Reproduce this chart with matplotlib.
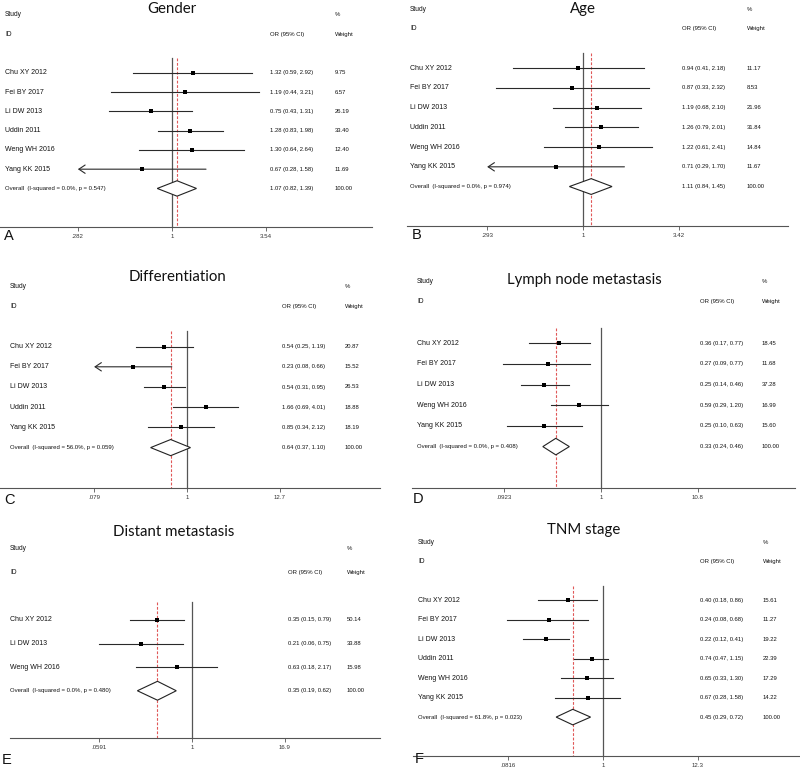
import numpy as np
import matplotlib
matplotlib.use('Agg')
import matplotlib.pyplot as plt
import matplotlib.transforms as mtransforms
from matplotlib.ticker import NullLocator

# ---- data ----
six_studies = ['Chu XY 2012', 'Fei BY 2017', 'Li DW 2013', 'Uddin 2011', 'Weng WH 2016', 'Yang KK 2015']

gender_or = [1.32, 1.19, 0.75, 1.28, 1.30, 0.67]
gender_lo = [0.59, 0.44, 0.43, 0.83, 0.64, 0.28]
gender_hi = [2.92, 3.21, 1.31, 1.98, 2.64, 1.58]
gender_wt = [9.75, 6.57, 26.19, 33.40, 12.40, 11.69]
gender_cut = [False, False, False, False, False, True]
gender_pool = [1.07, 0.82, 1.39]
gender_het = ['0.0%', '0.547']
gender_ticks = [0.282, 1, 3.54]
gender_ticklabels = ['.282', '1', '3.54']

age_or = [0.94, 0.87, 1.19, 1.26, 1.22, 0.71]
age_lo = [0.41, 0.33, 0.68, 0.79, 0.61, 0.29]
age_hi = [2.18, 2.32, 2.10, 2.01, 2.41, 1.70]
age_wt = [11.17, 8.53, 21.96, 31.84, 14.84, 11.67]
age_cut = [False, False, False, False, False, True]
age_pool = [1.11, 0.84, 1.45]
age_het = ['0.0%', '0.974']
age_ticks = [0.293, 1, 3.42]
age_ticklabels = ['.293', '1', '3.42']

diff_studies = ['Chu XY 2012', 'Fei BY 2017', 'Li DW 2013', 'Uddin 2011', 'Yang KK 2015']
diff_or = [0.54, 0.23, 0.54, 1.66, 0.85]
diff_lo = [0.25, 0.08, 0.31, 0.69, 0.34]
diff_hi = [1.19, 0.66, 0.95, 4.01, 2.12]
diff_wt = [20.87, 15.52, 26.53, 18.88, 18.19]
diff_cut = [False, True, False, False, False]
diff_pool = [0.64, 0.37, 1.10]
diff_het = ['56.0%', '0.059']
diff_ticks = [0.079, 1, 12.7]
diff_ticklabels = ['.079', '1', '12.7']

lymph_studies = ['Chu XY 2012', 'Fei BY 2017', 'Li DW 2013', 'Weng WH 2016', 'Yang KK 2015']
lymph_or = [0.36, 0.27, 0.25, 0.59, 0.25]
lymph_lo = [0.17, 0.09, 0.14, 0.29, 0.10]
lymph_hi = [0.77, 0.77, 0.46, 1.20, 0.63]
lymph_wt = [18.45, 11.68, 37.28, 16.99, 15.60]
lymph_cut = [False, False, False, False, False]
lymph_pool = [0.33, 0.24, 0.46]
lymph_het = ['0.0%', '0.408']
lymph_ticks = [0.0923, 1, 10.8]
lymph_ticklabels = ['.0923', '1', '10.8']

dist_studies = ['Chu XY 2012', 'Li DW 2013', 'Weng WH 2016']
dist_or = [0.35, 0.21, 0.63]
dist_lo = [0.15, 0.06, 0.18]
dist_hi = [0.79, 0.75, 2.17]
dist_wt = [50.14, 33.88, 15.98]
dist_cut = [False, False, False]
dist_pool = [0.35, 0.19, 0.62]
dist_het = ['0.0%', '0.480']
dist_ticks = [0.0591, 1, 16.9]
dist_ticklabels = ['.0591', '1', '16.9']

tnm_or = [0.40, 0.24, 0.22, 0.74, 0.65, 0.67]
tnm_lo = [0.18, 0.08, 0.12, 0.47, 0.33, 0.28]
tnm_hi = [0.86, 0.68, 0.41, 1.15, 1.30, 1.58]
tnm_wt = [15.61, 11.27, 19.22, 22.39, 17.29, 14.22]
tnm_cut = [False, False, False, False, False, False]
tnm_pool = [0.45, 0.29, 0.72]
tnm_het = ['61.8%', '0.023']
tnm_ticks = [0.0816, 1, 12.3]
tnm_ticklabels = ['.0816', '1', '12.3']

# ---- layout (figure pixels) ----
W, H = 800, 767
# axis left/right, x of 1, x of upper tick, y of "Study" row, y of axis,
# x of study / OR / weight columns, title centre, panel letter position
panels = [
    dict(title='Gender', letter='A', studies=six_studies, est=gender_or, lo=gender_lo, hi=gender_hi,
         wt=gender_wt, cut=gender_cut, pool=gender_pool, het=gender_het,
         ticks=gender_ticks, ticklabels=gender_ticklabels,
         left=0, right=372, px1=172, pxhi=266, top=15, axy=227,
         cx=(5, 270, 335), tpos=(172, 9), lpos=(4, 236)),
    dict(title='Age', letter='B', studies=six_studies, est=age_or, lo=age_lo, hi=age_hi,
         wt=age_wt, cut=age_cut, pool=age_pool, het=age_het,
         ticks=age_ticks, ticklabels=age_ticklabels,
         left=407, right=788, px1=583, pxhi=679, top=9, axy=226,
         cx=(410, 682, 747), tpos=(583, 9), lpos=(412, 235)),
    dict(title='Differentiation', letter='C', studies=diff_studies, est=diff_or, lo=diff_lo, hi=diff_hi,
         wt=diff_wt, cut=diff_cut, pool=diff_pool, het=diff_het,
         ticks=diff_ticks, ticklabels=diff_ticklabels,
         left=0, right=380, px1=187, pxhi=280, top=286, axy=488,
         cx=(10, 282, 345), tpos=(177, 277), lpos=(4, 500)),
    dict(title='Lymph node metastasis', letter='D', studies=lymph_studies, est=lymph_or, lo=lymph_lo, hi=lymph_hi,
         wt=lymph_wt, cut=lymph_cut, pool=lymph_pool, het=lymph_het,
         ticks=lymph_ticks, ticklabels=lymph_ticklabels,
         left=412, right=795, px1=601, pxhi=698, top=281, axy=488,
         cx=(417, 700, 762), tpos=(584, 280), lpos=(413, 499)),
    dict(title='Distant metastasis', letter='E', studies=dist_studies, est=dist_or, lo=dist_lo, hi=dist_hi,
         wt=dist_wt, cut=dist_cut, pool=dist_pool, het=dist_het,
         ticks=dist_ticks, ticklabels=dist_ticklabels,
         left=10, right=380, px1=192, pxhi=285, top=549, axy=738,
         cx=(10, 288, 347), tpos=(174, 532), lpos=(2, 760)),
    dict(title='TNM stage', letter='F', studies=six_studies, est=tnm_or, lo=tnm_lo, hi=tnm_hi,
         wt=tnm_wt, cut=tnm_cut, pool=tnm_pool, het=tnm_het,
         ticks=tnm_ticks, ticklabels=tnm_ticklabels,
         left=413, right=800, px1=603, pxhi=698, top=542, axy=756,
         cx=(418, 700, 763), tpos=(584, 530), lpos=(415, 759)),
]

small_font = ['Liberation Sans', 'DejaVu Sans']
line_col = '#2a2a2a'

fig = plt.figure(figsize=(W / 100, H / 100), dpi=100)

for p in panels:
    n = len(p['studies'])
    ax = fig.add_axes([p['left'] / W, 1 - p['axy'] / H,
                       (p['right'] - p['left']) / W, (p['axy'] - p['top']) / H])
    ax.patch.set_alpha(0)
    # log scale matched to the pixel spacing of the ticks
    scale = (p['pxhi'] - p['px1']) / np.log(p['ticks'][2])
    ax.set_xscale('log')
    ax.set_xlim(np.exp(-(p['px1'] - p['left']) / scale), np.exp((p['right'] - p['px1']) / scale))
    ax.set_ylim(n + 2, -3)
    for s in ['top', 'left', 'right']:
        ax.spines[s].set_visible(False)
    ax.spines['bottom'].set_color('#555555')
    ax.spines['bottom'].set_linewidth(0.8)
    ax.set_yticks([])
    ax.xaxis.set_minor_locator(NullLocator())
    ax.set_xticks(p['ticks'])
    ax.set_xticklabels(p['ticklabels'], fontsize=4.4, color='#333333', family=small_font)
    ax.tick_params(axis='x', length=3, width=0.6, color='#555555', pad=2)

    rows = np.arange(n)
    # reference line at 1 and the pooled estimate
    ax.plot([1, 1], [-0.75, n + 2], color='#555555', lw=0.9, clip_on=False)
    ax.plot([p['pool'][0]] * 2, [-0.75, n + 2], color='#e05858', lw=0.8, dashes=(2.5, 1.5), clip_on=False)

    for i in rows:
        if p['cut'][i]:
            ax.annotate('', xy=(p['ticks'][0], i), xytext=(p['hi'][i], i),
                        arrowprops=dict(arrowstyle='->,head_length=0.45,head_width=0.3',
                                        color=line_col, lw=0.8, shrinkA=0, shrinkB=0))
        else:
            ax.plot([p['lo'][i], p['hi'][i]], [i, i], color=line_col, lw=0.8)
    ax.plot(p['est'], rows, 's', color='black', ms=2.4, mew=0, ls='none', zorder=4)

    # pooled diamond
    est, lo, hi = p['pool']
    ax.fill([lo, est, hi, est, lo], [n, n - 0.4, n, n + 0.4, n],
            facecolor='white', edgecolor='#222222', lw=0.8, zorder=3)

    # text columns
    tr = mtransforms.blended_transform_factory(fig.transFigure, ax.transData)
    xs, xo, xw = [c / W for c in p['cx']]
    kw = dict(transform=tr, va='center', family=small_font, color='#111111')
    ax.text(xs, -3, 'Study', fontsize=4.8, **kw)
    ax.text(xs, -2, 'ID', fontsize=4.8, **kw)
    ax.text(xo, -2, 'OR (95% CI)', fontsize=4.3, **kw)
    ax.text(xw, -3, '%', fontsize=4.3, **kw)
    ax.text(xw, -2, 'Weight', fontsize=4.3, **kw)
    for i in rows:
        ax.text(xs, i, p['studies'][i], fontsize=5.0, **kw)
        ax.text(xo, i, f"{p['est'][i]:.2f} ({p['lo'][i]:.2f}, {p['hi'][i]:.2f})", fontsize=4.2, **kw)
        ax.text(xw, i, f"{p['wt'][i]:.2f}", fontsize=4.2, **kw)
    ax.text(xs, n, f"Overall  (I-squared = {p['het'][0]}, p = {p['het'][1]})", fontsize=4.3, **kw)
    ax.text(xo, n, f"{est:.2f} ({lo:.2f}, {hi:.2f})", fontsize=4.2, **kw)
    ax.text(xw, n, '100.00', fontsize=4.2, **kw)

    fig.text(p['tpos'][0] / W, 1 - p['tpos'][1] / H, p['title'], ha='center', va='center',
             fontsize=10.8, family=['Lato', 'DejaVu Sans'], color='#111111')
    fig.text(p['lpos'][0] / W, 1 - p['lpos'][1] / H, p['letter'], ha='left', va='center',
             fontsize=10.5, family=['Liberation Sans', 'DejaVu Sans'], color='#111111')

fig.savefig('out.png', dpi=100, facecolor='white')
